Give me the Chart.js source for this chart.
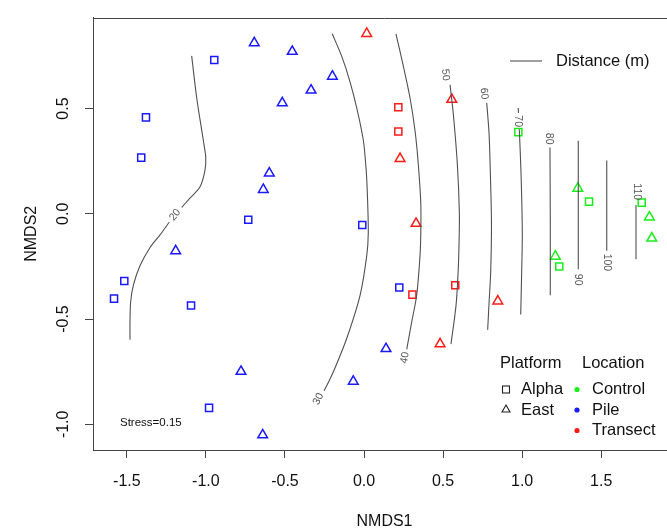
<!DOCTYPE html>
<html><head><meta charset="utf-8">
<script src="https://cdn.jsdelivr.net/npm/chart.js@4/dist/chart.umd.min.js"></script>
<style>html,body{margin:0;padding:0;background:#fff;overflow:hidden;width:667px;height:528px}canvas{display:block}</style>
</head><body>
<canvas id="c" width="676" height="528"></canvas>
<script>
// ---- axes ----
const xTicks = [-1.5, -1.0, -0.5, 0.0, 0.5, 1.0, 1.5];
const yTicks = [-1.0, -0.5, 0.0, 0.5];
const xRange = [-1.714, 1.973];
const yRange = [-1.122, 0.932];

// ---- NMDS site scores (Location x Platform) ----
const pileAlpha = [[-0.947,0.731],[-1.379,0.458],[-1.409,0.267],[-0.732,-0.028],[-0.011,-0.053],
                   [-1.516,-0.319],[-1.581,-0.403],[-1.094,-0.436],[-0.980,-0.922],[0.223,-0.350]];
const pileEast = [[-0.694,0.812],[-0.454,0.771],[-0.200,0.653],[-0.335,0.587],[-0.517,0.527],[-0.599,0.193],
                  [-0.637,0.115],[-1.191,-0.176],[-0.778,-0.749],[-0.068,-0.796],[-0.641,-1.051],[0.139,-0.641]];
const transectAlpha = [[0.217,0.506],[0.217,0.391],[0.306,-0.384],[0.577,-0.339]];
const transectEast = [[0.017,0.856],[0.555,0.543],[0.228,0.262],[0.329,-0.046],[0.846,-0.415],[0.481,-0.618]];
const controlAlpha = [[0.976,0.388],[1.423,0.058],[1.756,0.053],[1.235,-0.250]];
const controlEast = [[1.352,0.121],[1.805,-0.016],[1.820,-0.116],[1.210,-0.202]];

// ---- Distance (m) surface contours: segments of each level ----
const contour20 = [
  [[-1.090,0.750],[-1.058,0.550],[-1.016,0.347],[-1.001,0.269],[-1.006,0.206],[-1.037,0.128],[-1.101,0.074],[-1.153,0.031]],
  [[-1.232,-0.040],[-1.290,-0.100],[-1.354,-0.161],[-1.417,-0.247],[-1.459,-0.340],[-1.476,-0.419],[-1.480,-0.512],[-1.480,-0.598]]
];
const contour30 = [
  [[-0.201,0.855],[-0.139,0.744],[-0.089,0.628],[-0.044,0.496],[-0.004,0.347],[0.013,0.214],[0.021,0.097],
   [0.027,-0.090],[0.017,-0.200],[-0.025,-0.387],[-0.109,-0.591],[-0.183,-0.731],[-0.221,-0.794],[-0.253,-0.841]]
];
const contour40 = [
  [[0.202,0.855],[0.247,0.707],[0.291,0.550],[0.323,0.392],[0.343,0.238],[0.359,0.050],[0.359,-0.090],
   [0.354,-0.200],[0.333,-0.387],[0.302,-0.512],[0.270,-0.644]]
];
const contour50 = [
  [[0.544,0.613],[0.565,0.472],[0.590,0.238],[0.603,0.003],[0.601,-0.137],[0.595,-0.278],[0.582,-0.434],[0.550,-0.619]]
];
const contour60 = [
  [[0.776,0.527],[0.791,0.378],[0.799,0.191],[0.806,-0.044],[0.801,-0.278],[0.791,-0.419],[0.782,-0.551]]
];
const contour70 = [
  [[0.975,0.503],[0.977,0.479]],
  [[0.982,0.402],[0.993,0.191],[1.001,-0.090],[0.997,-0.278],[0.991,-0.478]]
];
const contour80 = [[[1.176,0.315],[1.178,-0.044],[1.178,-0.387]]];
const contour90 = [[[1.355,0.347],[1.355,-0.263]]];
const contour100 = [[[1.535,0.253],[1.535,-0.176]]];
const contour110 = [[[1.720,0.042],[1.720,-0.216]]];
const contourLevels = [20,30,40,50,60,70,80,90,100,110];
const contourLabelX = [-1.195,-0.289,0.259,0.515,0.759,0.976,1.170,1.355,1.535,1.725];
const contourLabelY = [-0.005,-0.880,-0.684,0.660,0.571,0.440,0.357,-0.313,-0.231,0.105];
const contourLabelAngle = [-51,-63,-80,84,86,90,90,90,90,90];
const stressText = 'Stress=0.15';

// ---- build ----
const FONT = '"Liberation Sans", Arial, Helvetica, sans-serif';
const LINE = '#505050';
const toXY = arr => arr.map(p => ({x: p[0], y: p[1]}));
const datasets = [];
[contour20,contour30,contour40,contour50,contour60,contour70,contour80,contour90,contour100,contour110].forEach(c => {
  c.forEach(seg => datasets.push({
    data: toXY(seg), showLine: true, pointRadius: 0, borderColor: LINE, borderWidth: 1.1,
    tension: 0.3, fill: false
  }));
});
function pts(arr, color, style) {
  return {data: toXY(arr), showLine: false, pointStyle: style, pointRadius: style === 'rect' ? 5 : 5.6,
    pointHoverRadius: 5, borderColor: color, backgroundColor: 'rgba(0,0,0,0)', pointBorderWidth: 1.5, borderWidth: 1.5};
}
const BLUE = '#1a1aff', RED = '#ff1a1a', GREEN = '#1aee1a';
datasets.push(pts(pileAlpha, BLUE, 'rect'), pts(pileEast, BLUE, 'triangle'),
  pts(transectAlpha, RED, 'rect'), pts(transectEast, RED, 'triangle'),
  pts(controlAlpha, GREEN, 'rect'), pts(controlEast, GREEN, 'triangle'));

const overlay = {
  id: 'overlay',
  afterDraw(chart) {
    const {ctx, chartArea: a, scales: {x, y}} = chart;
    ctx.save();
    ctx.strokeStyle = '#444'; ctx.lineWidth = 1;
    ctx.beginPath(); ctx.moveTo(a.left, Math.round(a.top) + 0.5); ctx.lineTo(a.right, Math.round(a.top) + 0.5); ctx.stroke();
    // contour labels
    ctx.font = '10.5px ' + FONT; ctx.fillStyle = '#555'; ctx.textAlign = 'center'; ctx.textBaseline = 'middle';
    contourLevels.forEach((lv, i) => {
      ctx.save();
      ctx.translate(x.getPixelForValue(contourLabelX[i]), y.getPixelForValue(contourLabelY[i]));
      ctx.rotate(contourLabelAngle[i] * Math.PI / 180);
      ctx.fillText(String(lv), 0, 0);
      ctx.restore();
    });
    // stress
    ctx.fillStyle = '#111'; ctx.font = '11.5px ' + FONT; ctx.textAlign = 'left';
    ctx.fillText(stressText, a.left + 27, a.bottom - 27);
    // distance legend
    ctx.strokeStyle = LINE; ctx.lineWidth = 1.1;
    ctx.beginPath(); ctx.moveTo(510, 61); ctx.lineTo(542, 61); ctx.stroke();
    ctx.font = '16.5px ' + FONT; ctx.fillStyle = '#111';
    ctx.fillText('Distance (m)', 556, 61.5);
    // platform / location legend
    ctx.fillText('Platform', 500, 363.5);
    ctx.fillText('Location', 582, 363.5);
    ctx.fillText('Alpha', 521, 389.5);
    ctx.fillText('East', 521, 410);
    ctx.fillText('Control', 592, 389.5);
    ctx.fillText('Pile', 592, 410);
    ctx.fillText('Transect', 592, 430.5);
    ctx.strokeStyle = '#222'; ctx.lineWidth = 1.1;
    ctx.strokeRect(502.5, 386, 7, 7);
    ctx.beginPath(); ctx.moveTo(506, 405); ctx.lineTo(510, 412); ctx.lineTo(502, 412); ctx.closePath(); ctx.stroke();
    [[GREEN,389.5],[BLUE,410],[RED,430.5]].forEach(([c, yy]) => {
      ctx.fillStyle = c; ctx.beginPath(); ctx.arc(577, yy, 2.6, 0, Math.PI * 2); ctx.fill();
    });
    ctx.restore();
  }
};

new Chart(document.getElementById('c'), {
  type: 'scatter',
  data: {datasets},
  plugins: [overlay],
  options: {
    responsive: false, animation: false, devicePixelRatio: 1,
    layout: {padding: {top: 12, left: 0, right: 0, bottom: 0}, autoPadding: false},
    plugins: {legend: {display: false}, tooltip: {enabled: false}},
    scales: {
      x: {
        type: 'linear', min: xRange[0], max: xRange[1],
        afterBuildTicks: s => { s.ticks = xTicks.map(v => ({value: v})); },
        afterFit: s => { s.height = 78; },
        ticks: {font: {family: FONT, size: 16, lineHeight: 1.2}, color: '#111', padding: 14, maxRotation: 0, autoSkip: false,
                callback: v => Number(v).toFixed(1)},
        grid: {drawOnChartArea: false, drawTicks: true, tickLength: 8, color: '#444', lineWidth: 1},
        border: {display: true, color: '#444', width: 1},
        title: {display: true, text: 'NMDS1', color: '#111', font: {family: FONT, size: 16, lineHeight: 0.85}, padding: 0}
      },
      y: {
        type: 'linear', min: yRange[0], max: yRange[1],
        afterBuildTicks: s => { s.ticks = yTicks.map(v => ({value: v})); },
        afterFit: s => { s.width = 93; },
        ticks: {font: {family: FONT, size: 16, lineHeight: 1.2}, color: '#111', padding: 8, minRotation: 90, maxRotation: 90,
                crossAlign: 'center', autoSkip: false, callback: v => Number(v).toFixed(1)},
        grid: {drawOnChartArea: false, drawTicks: true, tickLength: 8, color: '#444', lineWidth: 1},
        border: {display: true, color: '#444', width: 1},
        title: {display: true, text: 'NMDS2', color: '#111', font: {family: FONT, size: 16, lineHeight: 1.2}, padding: {top: 22, bottom: 0}}
      }
    }
  }
});
</script>
</body></html>
